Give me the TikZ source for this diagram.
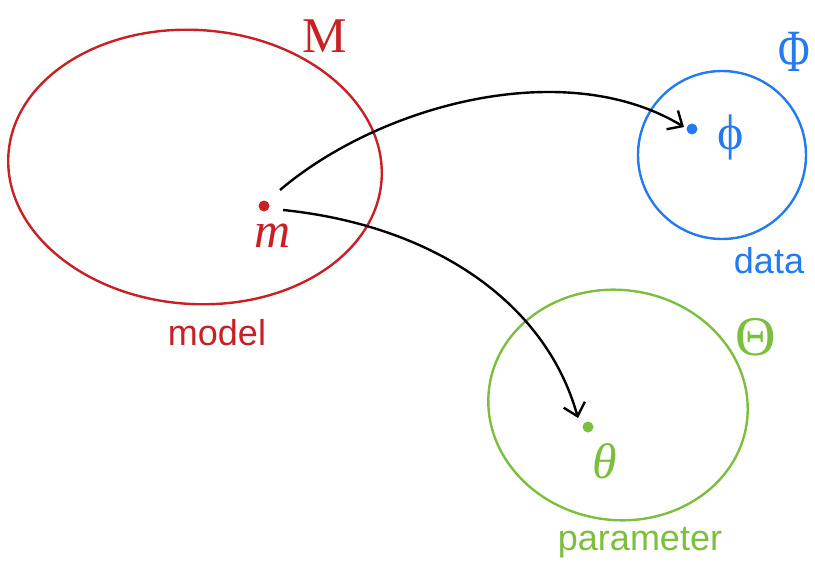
\documentclass[tikz,border=0pt]{standalone}
\usepackage{fontspec}
\setmainfont{Liberation Sans}
\newfontfamily\symfont{Liberation Serif}
\usetikzlibrary{arrows.meta,positioning}
\definecolor{modelred}{RGB}{200,32,36}
\definecolor{datablue}{RGB}{36,122,240}
\definecolor{paramgreen}{RGB}{124,190,62}
\tikzset{
  space/.style={line width=2.4pt},
  pt/.style={circle,fill,inner sep=0pt,minimum size=11pt},
  word/.style={font=\fontsize{36}{42}\selectfont},
  sym/.style={font=\symfont\fontsize{50}{56}\selectfont,inner sep=0pt},
  map/.style={line width=2.4pt,-{Straight Barb[length=12pt,width=22pt,line width=2.4pt]}},
}
\begin{document}
\begin{tikzpicture}[x=1pt,y=-1pt]
  \useasboundingbox (0,0) rectangle (815,562);
  % the three spaces
  \draw[space,modelred,rotate around={-4:(195,167)}] (195,167) ellipse (187 and 137);
  \draw[space,datablue] (722,155) circle (84);
  \draw[space,paramgreen,rotate around={-8:(618,405)}] (618,405) ellipse (130 and 115);
  \node[word,text=modelred] (model) at (217,333) {model};
  \node[word,text=datablue] (data) at (769,261) {data};
  \node[word,text=paramgreen] (parameter) at (640,543) {parameter};
  \node[sym,text=modelred] (M) at (325,36) {M};
  \node[sym,text=datablue,font=\symfont\fontsize{60}{64}\selectfont,xscale=0.72,transform shape] (Phi) at (794,52) {Φ};
  \node[sym,text=paramgreen,font=\symfont\fontsize{56}{60}\selectfont] (Theta) at (756,337) {Θ};
  % points
  \node[pt,modelred] (m) at (264,206) {};
  \node[pt,datablue] (phi) at (692,129) {};
  \node[pt,paramgreen] (theta) at (588,427) {};
  \node[sym,text=modelred,below right=14pt and -14pt of m] (mlab) {\itshape m};
  \node[sym,text=datablue,right=20pt of phi,yshift=-8pt] (philab) {ϕ};
  \node[sym,text=paramgreen,below right=12pt and 0pt of theta] (thetalab) {\itshape θ};
  % maps
  \draw[map] ([shift={(16,-16)}]m.center) .. controls (380,105) and (565,55) .. ([shift={(-8,-2)}]phi.center);
  \draw[map] ([shift={(19,4)}]m.center) .. controls (430,225) and (545,300) .. ([shift={(-10,-9)}]theta.center);
\end{tikzpicture}
\end{document}
